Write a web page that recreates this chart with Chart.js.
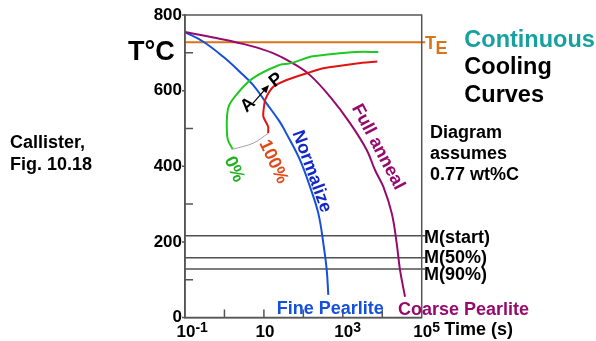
<!DOCTYPE html>
<html><head><meta charset="utf-8">
<script src="https://cdn.jsdelivr.net/npm/chart.js@4"></script>
<style>html,body{margin:0;padding:0;background:#fff}#wrap{width:596px;height:341px;position:relative}canvas{display:block}</style>
</head><body><div id="wrap"><canvas id="c" width="596" height="341"></canvas></div>
<script>
// ---- data (time in s, temperature in °C) ----
const normalizeTime = [0.1, 0.286, 0.918, 2.44, 5.30, 11.5, 25.1, 37, 82, 147, 239, 321, 391, 429];
const normalizeTemp = [755, 730, 690, 650, 615, 567, 518, 487, 417, 346, 276, 196, 126, 60];
const annealTime = [0.1, 0.62, 4.36, 17.0, 54.7, 147, 474, 1524, 4040, 6550, 10640, 17380, 23240, 28180, 37760];
const annealTemp = [755, 739, 719, 699, 672, 641, 584, 514, 443, 390, 346, 276, 196, 126, 55];
const startTime = [1.62, 1.22, 1.15, 1.16, 1.3, 2.0, 5.3, 25.1, 45.9, 158, 321, 2250, 7950];
const startTemp = [445, 470, 500, 530, 560, 589, 633, 668, 672, 690, 694, 702, 702];
const finishTime = [12.8, 12.8, 9.7, 10.0, 11.0, 17.3, 37.8, 121.6, 321, 2250, 7500];
const finishTemp = [487, 505, 531, 556, 578, 610, 628, 646, 659, 672, 677];
const linkTime = [1.62, 5.38, 12.8];
const linkTemp = [445, 461, 487];
const arrowTime = [5.3, 13.5];
const arrowTemp = [567, 615];
const eutectoidTemp = 728;
const martensiteTemps = [216, 158, 128];
const martensiteLabels = ['M(start)', 'M(50%)', 'M(90%)'];
const lineTimeSpan = [0.1, 1.23e5];
const xTickValues = [0.1, 10, 1000, 100000];
const xTickExponents = ['-1', '', '3', '5'];
const yMajorTicks = [0, 200, 400, 600, 800];
const yMinorTicks = [100, 300, 500, 700];
const xInnerTicks = [1, 10, 100, 1000, 10000];

const FONT = '"Liberation Sans", Arial, Helvetica, sans-serif';
const pts = (ts, vs) => ts.map((t, i) => ({x: t, y: vs[i]}));
const hline = v => lineTimeSpan.map(t => ({x: t, y: v}));

const curve = (data, color, tension, w) => ({data, borderColor: color, borderWidth: w || 2, showLine: true, pointRadius: 0, tension, fill: false});

const datasets = [
  curve(pts(linkTime, linkTemp), '#a0a0a0', 0.3, 1),
  curve(pts(startTime, startTemp), '#22c822', 0.4),
  curve(pts(finishTime, finishTemp), '#dc1414', 0.25),
  curve(pts(annealTime, annealTemp), '#960a6e', 0.4),
  curve(pts(normalizeTime, normalizeTemp), '#1450dc', 0.4),
  Object.assign(curve(hline(eutectoidTemp), '#d9731a', 0, 2), {clip: false}),
  ...martensiteTemps.map(v => Object.assign(curve(hline(v), '#505050', 0, 1.5), {clip: false}))
];

const annot = {
  id: 'annot',
  afterDraw(chart) {
    const {ctx, chartArea: a, scales: {x, y}} = chart;
    ctx.save();
    // frame
    ctx.strokeStyle = '#555'; ctx.lineWidth = 1.5;
    ctx.strokeRect(a.left, a.top, a.right - a.left, a.bottom - a.top);
    // ticks
    ctx.beginPath();
    yMajorTicks.forEach(v => { const py = y.getPixelForValue(v); ctx.moveTo(a.left - 3, py); ctx.lineTo(a.left, py); });
    yMinorTicks.forEach(v => { const py = y.getPixelForValue(v); ctx.moveTo(a.left, py); ctx.lineTo(a.left + 8, py); });
    xInnerTicks.forEach(v => { const px = x.getPixelForValue(v); ctx.moveTo(px, a.bottom); ctx.lineTo(px, a.bottom - 8); });
    ctx.stroke();
    // x tick labels with superscripts
    ctx.fillStyle = '#000'; ctx.textBaseline = 'alphabetic';
    xTickValues.forEach((v, i) => {
      const px = x.getPixelForValue(v);
      ctx.font = 'bold 17px ' + FONT;
      const w = ctx.measureText('10').width;
      ctx.textAlign = 'left';
      ctx.fillText('10', px - w / 2 + 1, 336.5);
      if (xTickExponents[i]) {
        ctx.font = 'bold 14px ' + FONT;
        ctx.fillText(xTickExponents[i], px + w / 2 + 1, 331.5);
      }
    });
    const txt = (s, px, py, font, color, align) => {
      ctx.font = font; ctx.fillStyle = color; ctx.textAlign = align || 'left'; ctx.fillText(s, px, py);
    };
    const B18 = 'bold 18px ' + FONT;
    txt('T°C', 128, 60, 'bold 27px ' + FONT, '#000');
    txt('Callister,', 10, 147.7, B18, '#000');
    txt('Fig. 10.18', 10, 169.5, B18, '#000');
    txt('T', 425, 48.5, B18, '#d9731a');
    txt('E', 435.5, 53.8, B18, '#d9731a');
    txt('Continuous', 464.3, 46.7, 'bold 23.5px ' + FONT, '#17a0a0');
    txt('Cooling', 464.3, 74, 'bold 23.5px ' + FONT, '#000');
    txt('Curves', 464.3, 101.5, 'bold 23.5px ' + FONT, '#000');
    txt('Diagram', 430, 138.3, B18, '#000');
    txt('assumes', 430, 158.5, B18, '#000');
    txt('0.77 wt%C', 430, 180, B18, '#000');
    const mBase = [243, 262.5, 280];
    martensiteLabels.forEach((s, i) => txt(s, 424, mBase[i], B18, '#000'));
    txt('Fine Pearlite', 276.7, 313.8, B18, '#1450dc');
    txt('Coarse Pearlite', 398, 314.8, B18, '#960a6e');
    txt('Time (s)', 444.3, 335, B18, '#000');
    // rotated labels along curves (positioned in data coordinates)
    const rot = (s, t, T, deg, color, size) => {
      ctx.save();
      ctx.translate(x.getPixelForValue(t), y.getPixelForValue(T));
      ctx.rotate(deg * Math.PI / 180);
      ctx.font = 'bold ' + (size || 18) + 'px ' + FONT; ctx.fillStyle = color;
      ctx.textAlign = 'center'; ctx.textBaseline = 'middle';
      ctx.fillText(s, 0, 0);
      ctx.restore();
    };
    rot('Normalize', 163, 386, 70, '#1428c8');
    rot('Full anneal', 7800, 451, 62, '#960a6e');
    rot('0%', 1.75, 392, 66, '#22b022');
    rot('100%', 17.3, 412, 65, '#e04a1a');
    rot('A', 3.95, 562, -42, '#000');
    rot('P', 20.6, 628, -38, '#000');
    // arrow A -> P
    const x0 = x.getPixelForValue(arrowTime[0]), y0 = y.getPixelForValue(arrowTemp[0]);
    const x1 = x.getPixelForValue(arrowTime[1]), y1 = y.getPixelForValue(arrowTemp[1]);
    const ang = Math.atan2(y1 - y0, x1 - x0);
    ctx.strokeStyle = '#000'; ctx.lineWidth = 1.2;
    ctx.beginPath(); ctx.moveTo(x0, y0); ctx.lineTo(x1 - 5 * Math.cos(ang), y1 - 5 * Math.sin(ang)); ctx.stroke();
    ctx.fillStyle = '#000';
    ctx.beginPath();
    ctx.moveTo(x1, y1);
    ctx.lineTo(x1 - 8 * Math.cos(ang) + 3.5 * Math.sin(ang), y1 - 8 * Math.sin(ang) - 3.5 * Math.cos(ang));
    ctx.lineTo(x1 - 8 * Math.cos(ang) - 3.5 * Math.sin(ang), y1 - 8 * Math.sin(ang) + 3.5 * Math.cos(ang));
    ctx.closePath(); ctx.fill();
    ctx.restore();
  }
};

new Chart(document.getElementById('c'), {
  type: 'scatter',
  data: {datasets},
  options: {
    responsive: false, animation: false, devicePixelRatio: 1,
    layout: {padding: {left: 0, top: 15, right: 174.3, bottom: 0}},
    plugins: {legend: {display: false}, tooltip: {enabled: false}},
    scales: {
      x: {
        type: 'logarithmic', min: 0.1, max: 1e5,
        afterFit(s) { s.height = 23.5; },
        ticks: {display: false},
        grid: {display: false, drawTicks: false},
        border: {display: true, color: '#555', width: 1.5}
      },
      y: {
        min: 0, max: 800,
        afterFit(s) { s.width = 185; },
        ticks: {stepSize: 100, autoSkip: false, padding: 3, color: '#000',
          font: {family: FONT, size: 17, weight: 'bold'},
          callback: v => (v % 200 === 0 ? String(v) : '')},
        grid: {display: false, drawTicks: false},
        border: {display: true, color: '#555', width: 1.5}
      }
    }
  },
  plugins: [annot]
});
</script></body></html>
